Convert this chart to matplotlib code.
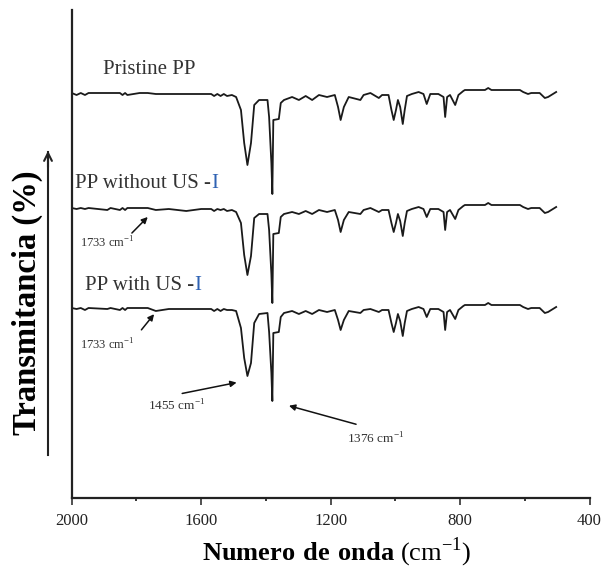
import numpy as np
import matplotlib
matplotlib.use("Agg")
import matplotlib.pyplot as plt
from matplotlib.ticker import MultipleLocator

plt.rcParams["font.family"] = ["Liberation Serif", "DejaVu Serif"]
plt.rcParams["mathtext.fontset"] = "custom"
plt.rcParams["mathtext.rm"] = "Liberation Serif"
plt.rcParams["mathtext.bf"] = "Liberation Serif:bold"

# wavenumber (cm-1) of the read points, shared by the three spectra
wavenumber = [2000, 1985, 1972, 1959, 1948, 1890, 1880, 1851, 1843, 1835,
              1828, 1790, 1765, 1740, 1700, 1646, 1600, 1569, 1560, 1550,
              1540, 1530, 1520, 1505, 1492, 1477, 1467, 1457, 1446, 1436,
              1421, 1395, 1390, 1383, 1380, 1377, 1360, 1354, 1344, 1319,
              1298, 1277, 1257, 1236, 1211, 1187, 1177, 1169, 1159, 1144,
              1108, 1098, 1077, 1051, 1041, 1021, 1012, 1005, 998, 992,
              985, 977, 971, 964, 949, 928, 913, 903, 892, 867,
              851, 846, 840, 831, 815, 805, 790, 785, 723, 713,
              703, 615, 605, 590, 580, 554, 538, 528, 503]

# transmittance (arbitrary units)
t_pristine = [100, 98, 100, 98, 100, 100, 100, 100, 98, 100,
              98, 100, 100, 99, 99, 99, 99, 99, 97, 99,
              97, 99, 97, 98, 96, 83, 50, 28, 50, 88,
              93, 93, 76, 30, -1, 73, 74, 90, 93, 96,
              93, 97, 93, 98, 96, 98, 86, 73, 86, 96,
              93, 98, 100, 95, 98, 98, 83, 73, 83, 93,
              86, 69, 83, 97, 99, 101, 99, 89, 99, 99,
              96, 76, 96, 98, 88, 98, 102, 103, 103, 105,
              103, 103, 101, 99, 100, 100, 95, 96, 101]

t_without = [100, 99, 100, 99, 100, 98, 100, 98, 100, 98,
             100, 100, 100, 98, 99, 97, 99, 99, 97, 99,
             98, 99, 97, 98, 96, 85, 53, 33, 52, 90,
             94, 94, 78, 34, 5, 74, 75, 91, 94, 96,
             94, 97, 94, 98, 96, 98, 88, 76, 88, 96,
             94, 98, 100, 96, 98, 98, 85, 76, 85, 94,
             87, 72, 85, 97, 99, 101, 99, 91, 99, 99,
             96, 78, 96, 98, 89, 98, 102, 103, 103, 105,
             103, 103, 101, 99, 100, 100, 95, 96, 101]

t_with = [100, 99, 100, 98, 100, 99, 100, 98, 100, 98,
          100, 100, 100, 97, 99, 99, 99, 99, 97, 99,
          97, 99, 98, 98, 97, 80, 50, 32, 45, 85,
          94, 95, 76, 35, 7, 75, 76, 91, 95, 97,
          94, 97, 94, 98, 96, 98, 88, 78, 88, 97,
          95, 98, 99, 96, 98, 98, 85, 76, 85, 94,
          87, 72, 85, 97, 99, 101, 99, 91, 99, 99,
          96, 78, 96, 98, 89, 98, 102, 103, 103, 105,
          103, 103, 101, 99, 100, 100, 95, 96, 101]

labels = ["Pristine PP", "PP without US -", "PP with US -"]
offsets = [305, 190, 90]

fig = plt.figure(figsize=(6.03, 5.69), dpi=100)
ax = fig.add_axes([71.7 / 603, 71 / 569, 517.8 / 603, 488 / 569])

for t, off in zip([t_pristine, t_without, t_with], offsets):
    ax.plot(wavenumber, np.array(t) + off, color="#1a1a1a", lw=1.3)

ax.set_xlim(2000, 400)
ax.set_ylim(0, 488)
ax.set_yticks([])
ax.xaxis.set_major_locator(MultipleLocator(400))
ax.xaxis.set_minor_locator(MultipleLocator(200))
ax.tick_params(axis="x", which="major", length=5, width=1.1, pad=6,
               labelsize=12, colors="#222222")
ax.tick_params(axis="x", which="minor", length=2.5, width=1.1)
for s in ["top", "right"]:
    ax.spines[s].set_visible(False)
for s in ["left", "bottom"]:
    ax.spines[s].set_linewidth(1.6)
    ax.spines[s].set_color("#222222")

# curve labels
ax.text(1903, 429, labels[0], fontsize=15, va="center", color="#333333")
for x, y, lab in [(1990, 314, labels[1]), (1959, 212, labels[2])]:
    t = ax.text(x, y, lab, fontsize=15, va="center", color="#333333")
    fig.canvas.draw()
    bb = t.get_window_extent()
    xe = ax.transData.inverted().transform((bb.x1, bb.y0))[0]
    ax.text(xe, y, "I", fontsize=15, va="center", color="#2f62b3")

# peak annotations
arrow = dict(arrowstyle="-|>", color="#111111", lw=1.1, mutation_scale=9)
ax.annotate("", xy=(1759, 283), xytext=(1820, 263), arrowprops=arrow)
ax.text(1974, 255, "1733 cm$^{-1}$", fontsize=9, va="center", color="#333333")
ax.annotate("", xy=(1740, 186), xytext=(1790, 166), arrowprops=arrow)
ax.text(1974, 153, "1733 cm$^{-1}$", fontsize=9, va="center", color="#333333")
ax.annotate("", xy=(1482, 116), xytext=(1667, 104), arrowprops=arrow)
ax.text(1676, 92, "1455 cm$^{-1}$", fontsize=9.5, ha="center", va="center",
        color="#333333")
ax.annotate("", xy=(1337, 93), xytext=(1113, 73), arrowprops=arrow)
ax.text(1060, 59, "1376 cm$^{-1}$", fontsize=9.5, ha="center", va="center",
        color="#333333")

# axis titles
fig.text(27 / 603, 1 - 303 / 569, "Transmitancia (%)", rotation=90,
         ha="center", va="center", fontsize=23.5, fontweight="bold")
fig.text(337 / 603, 1 - 552 / 569, r"$\mathbf{Numero\ de\ onda}$ (cm$^{-1}$)",
         ha="center", va="center", fontsize=19)

# arrow along the y axis
fig.add_artist(plt.Line2D([48 / 603, 48 / 603], [1 - 455 / 569, 1 - 152 / 569],
                          color="#222222", lw=1.5))
ax.annotate("", xy=(48 / 603, 1 - 148 / 569), xytext=(48 / 603, 1 - 170 / 569),
            xycoords="figure fraction", textcoords="figure fraction",
            arrowprops=dict(arrowstyle="->", color="#222222", lw=1.5,
                            mutation_scale=14))

fig.savefig("out.png", dpi=100)
